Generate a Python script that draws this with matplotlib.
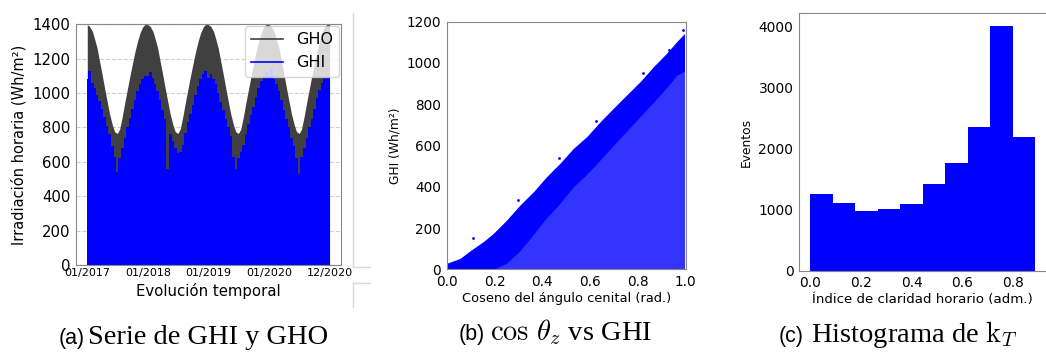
import numpy as np
import pandas as pd
import matplotlib
matplotlib.use('Agg')
from matplotlib import pyplot as plt
from matplotlib.lines import Line2D

plt.rcParams['mathtext.fontset'] = 'cm'

W, H = 1046, 353

# ---------- (a) hourly series, semi-monthly envelopes (Wh/m2)
dates = pd.date_range('2017-01-01', '2020-12-15', freq='SMS').append(pd.DatetimeIndex(['2020-12-31']))

gho_max = [1398, 1388, 1358, 1312, 1262, 1190, 1105, 1030, 950, 880, 815, 775,
           765, 790, 870, 945, 1030, 1100, 1175, 1240, 1305, 1350, 1385, 1400,
           1398, 1388, 1358, 1312, 1262, 1190, 1105, 1030, 950, 880, 815, 775,
           765, 790, 870, 945, 1030, 1100, 1175, 1240, 1305, 1350, 1385, 1400,
           1398, 1388, 1358, 1312, 1262, 1190, 1105, 1030, 950, 880, 815, 775,
           765, 790, 870, 945, 1030, 1100, 1175, 1240, 1305, 1350, 1385, 1400,
           1398, 1388, 1358, 1312, 1262, 1190, 1105, 1030, 950, 880, 815, 775,
           765, 790, 870, 945, 1030, 1100, 1175, 1240, 1305, 1350, 1385, 1400,
           1399]

ghi_max = [1080, 1130, 1060, 1030, 990, 955, 905, 860, 810, 760, 690, 630,
           540, 625, 680, 740, 800, 855, 910, 960, 1010, 1050, 1080, 1100,
           1100, 1120, 1090, 1050, 1010, 960, 900, 850, 560, 760, 720, 680,
           650, 660, 700, 770, 830, 880, 930, 990, 1040, 1080, 1110, 1130,
           1090, 1110, 1080, 1050, 1000, 950, 900, 850, 800, 750, 630, 560,
           620, 660, 700, 760, 820, 870, 920, 980, 1030, 1070, 1100, 1120,
           1100, 1140, 1080, 1050, 1010, 960, 900, 850, 800, 740, 690, 620,
           530, 630, 680, 740, 800, 850, 910, 970, 1020, 1060, 1090, 1100,
           1100]

date_ticks = ['2017-01-01', '2018-01-01', '2019-01-01', '2020-01-01', '2020-12-31']
date_labels = ['01/2017', '01/2018', '01/2019', '01/2020', '12/2020']

# ---------- (b) GHI vs cos(zenith): outline of the point cloud
cos_z = [0.0, 0.056, 0.098, 0.153, 0.195, 0.251, 0.307, 0.363, 0.418, 0.474,
         0.530, 0.586, 0.642, 0.697, 0.753, 0.809, 0.865, 0.920, 0.962, 0.995]
ghi_upper = [29, 53, 90, 134, 174, 239, 312, 376, 449, 514,
             586, 643, 715, 780, 845, 909, 982, 1047, 1103, 1143]
ghi_dense = [0, 0, 0, 0, 0, 30, 90, 170, 250, 320,
             400, 460, 530, 600, 670, 740, 810, 880, 940, 960]
out_x = [0.11, 0.30, 0.47, 0.625, 0.82, 0.93, 0.99]
out_y = [150, 335, 540, 720, 950, 1065, 1160]

# ---------- (c) histogram of kT
kt_edges = np.linspace(0, 0.889, 11)
kt_counts = [1257, 1109, 973, 1011, 1098, 1426, 1770, 2361, 4016, 2197]


def px_axes(l, t, r, b):
    return fig.add_axes([l / W, 1 - b / H, (r - l) / W, (b - t) / H])


def style(ax, size):
    for s in ax.spines.values():
        s.set_color('#888888')
    ax.tick_params(length=0, labelsize=size, pad=4)


fig = plt.figure(figsize=(W / 100, H / 100), dpi=100)

# (a)
ax1 = px_axes(76, 24.3, 340.7, 265)
ax1.fill_between(dates, 0, gho_max, color='#404040', lw=0)
ax1.fill_between(dates, 0, ghi_max, color='#0000ff', lw=0, step='mid')
ax1.set_ylim(0, 1400)
ax1.set_xlim(pd.Timestamp('2016-10-25'), pd.Timestamp('2021-03-08'))
ax1.set_xticks(pd.to_datetime(date_ticks))
ax1.set_xticklabels(date_labels)
ax1.grid(axis='y', linestyle='--', color='#d0d0d0', lw=0.8)
ax1.set_axisbelow(True)
style(ax1, 10.7)
ax1.tick_params(axis='x', labelsize=8, pad=2)
ax1.set_ylabel('Irradiación horaria (Wh/m²)', fontsize=10.5)
ax1.set_xlabel('Evolución temporal', fontsize=10.7, labelpad=4)
handles = [Line2D([], [], color='#404040', lw=1.2), Line2D([], [], color='#0000ff', lw=1.2)]
ax1.legend(handles, ['GHO', 'GHI'], loc='upper right', fontsize=11.5, borderaxespad=0.1)

# (b)
ax2 = px_axes(446.7, 21.7, 685.7, 269.3)
ax2.fill_between(cos_z, 0, ghi_upper, color='#0000ff', lw=0)
ax2.fill_between(cos_z, 0, ghi_dense, color='#3434ff', lw=0)
ax2.scatter(out_x, out_y, s=4, color='#0000ff', lw=0)
ax2.set_xlim(0, 1.0)
ax2.set_ylim(0, 1200)
style(ax2, 9.8)
ax2.set_ylabel('GHI (Wh/m²)', fontsize=8.8)
ax2.set_xlabel('Coseno del ángulo cenital (rad.)', fontsize=9.4, labelpad=2)

# (c)
ax3 = px_axes(799, 13.3, 1046.6, 270.7)
ax3.bar(kt_edges[:-1], kt_counts, width=np.diff(kt_edges), align='edge', color='#0000ff')
ax3.set_xlim(-0.0444, 0.933)
ax3.set_ylim(0, 4217)
ax3.set_xticks([0.0, 0.2, 0.4, 0.6, 0.8])
ax3.set_yticks([0, 1000, 2000, 3000, 4000])
style(ax3, 9.9)
ax3.set_ylabel('Eventos', fontsize=8.8)
ax3.set_xlabel('Índice de claridad horario (adm.)', fontsize=9.6, labelpad=2)

# captions
def cap(x, y, s, **kw):
    fig.text(x / W, 1 - y / H, s, va='baseline', ha='left', **kw)

cap(58.3, 344.3, '(a)', family='Liberation Sans', fontsize=15.5)
cap(88.5, 344.3, 'Serie de GHI y GHO', family='Liberation Serif', fontsize=20.5)
cap(458.3, 340, '(b)', family='Liberation Sans', fontsize=15.5)
cap(490, 340, r'$\cos\,\theta_z$ vs GHI', family='Liberation Serif', fontsize=20.5)
cap(778.3, 341.7, '(c)', family='Liberation Sans', fontsize=15.5)
cap(811, 341.7, r'Histograma de $\mathrm{k}_T$', family='Liberation Serif', fontsize=20.5)

# faint frame fragments between panels
for xs, ys in [([353.3, 353.3], [13.3, 266.7]), ([353.3, 370], [266.7, 266.7]),
               ([353.3, 370], [283.3, 283.3]), ([353.3, 353.3], [283.3, 306.7])]:
    fig.add_artist(Line2D([x / W for x in xs], [1 - y / H for y in ys], color='#d8d8d8', lw=1))

fig.savefig('out.png', dpi=100)
